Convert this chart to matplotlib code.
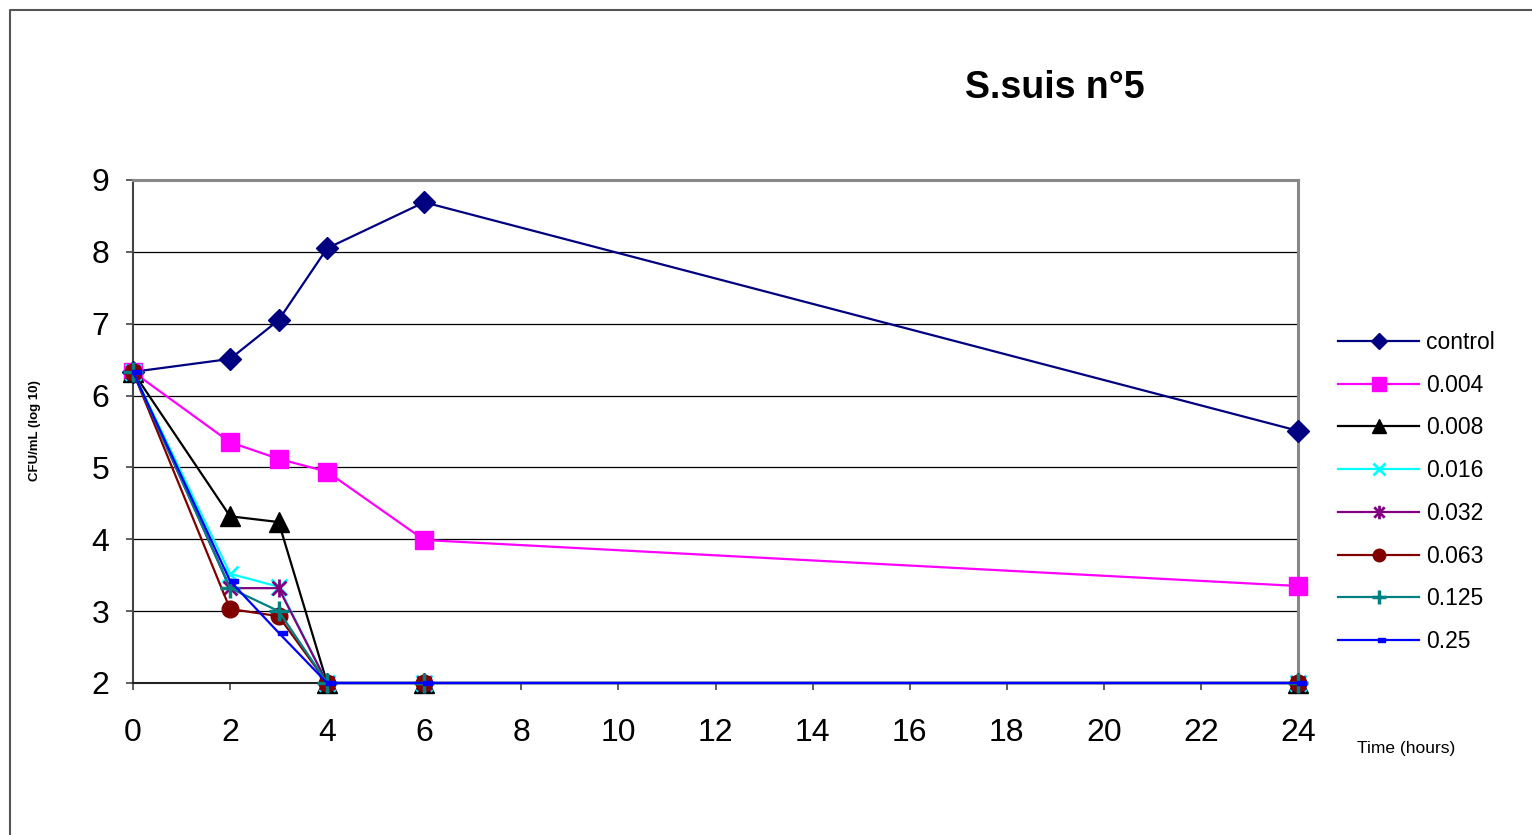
import matplotlib
matplotlib.use('Agg')
import matplotlib.pyplot as plt
from matplotlib.path import Path
from matplotlib.lines import Line2D

plt.rcParams['font.family'] = ['Liberation Sans', 'DejaVu Sans']

# Data (log10 CFU/mL)
hours = [0, 2, 3, 4, 6, 24]
series_names = ['control', '0.004', '0.008', '0.016', '0.032', '0.063', '0.125', '0.25']
control = [6.33, 6.51, 7.05, 8.05, 8.69, 5.51]
c0004 = [6.33, 5.35, 5.12, 4.94, 3.99, 3.35]
c0008 = [6.33, 4.32, 4.24, 2.0, 2.0, 2.0]
c0016 = [6.33, 3.52, 3.34, 2.0, 2.0, 2.0]
c0032 = [6.33, 3.32, 3.32, 2.0, 2.0, 2.0]
c0063 = [6.33, 3.03, 2.93, 2.0, 2.0, 2.0]
c0125 = [6.33, 3.32, 3.0, 2.0, 2.0, 2.0]
c025 = [6.33, 3.42, 2.70, 2.0, 2.0, 2.0]
x_ticks = list(range(0, 25, 2))
y_ticks = list(range(2, 10))

# custom markers: Excel-style star (x + vertical) and offset dash
star = Path([(-1, -1), (1, 1), (-1, 1), (1, -1), (0, -1.3), (0, 1.3)],
            [Path.MOVETO, Path.LINETO, Path.MOVETO, Path.LINETO, Path.MOVETO, Path.LINETO])
dash = Path([(-0.2, -0.35), (1.2, -0.35), (1.2, 0.35), (-0.2, 0.35), (-0.2, -0.35)],
            [Path.MOVETO, Path.LINETO, Path.LINETO, Path.LINETO, Path.CLOSEPOLY])

styles = [
    dict(color='#000080', marker='D', ms=11),
    dict(color='#FF00FF', marker='s', ms=13),
    dict(color='black', marker='^', ms=14),
    dict(color='#00FFFF', marker='x', ms=11, mew=2),
    dict(color='#800080', marker=star, ms=13, mew=2),
    dict(color='#800000', marker='o', ms=12),
    dict(color='#008080', marker='+', ms=14, mew=2.5),
    dict(color='#0000FF', marker=dash, ms=11),
]
values = [control, c0004, c0008, c0016, c0032, c0063, c0125, c025]

fig = plt.figure(figsize=(15.32, 8.35), dpi=100)
ax = fig.add_axes([133 / 1532, 1 - 683 / 835, (1298 - 133) / 1532, (683 - 180) / 835])

for name, vals, st in zip(series_names, values, styles):
    ax.plot(hours, vals, lw=1.6, label=name, clip_on=False, zorder=3, **st)

ax.set_xlim(0, 24)
ax.set_ylim(2, 9)
ax.set_xticks(x_ticks)
ax.set_yticks(y_ticks)
ax.tick_params(axis='x', direction='out', length=5, width=1.2, color='#444444',
               labelsize=23, pad=20)
ax.tick_params(axis='y', direction='out', length=5, width=1.2, color='#444444',
               labelsize=23, pad=12)
for y in y_ticks[1:-1]:
    ax.axhline(y, color='black', lw=0.9, zorder=1)
ax.spines['top'].set_color('#888888')
ax.spines['top'].set_linewidth(2.2)
ax.spines['right'].set_color('#888888')
ax.spines['right'].set_linewidth(2.2)
ax.spines['left'].set_color('#444444')
ax.spines['left'].set_linewidth(1.5)
ax.spines['bottom'].set_color('#222222')
ax.spines['bottom'].set_linewidth(1.5)

leg = fig.legend(loc='upper left', bbox_to_anchor=(1338 / 1532, 1 - 331 / 835),
                 frameon=False, fontsize=16.5, handlelength=3.55, handletextpad=0.3,
                 labelspacing=0.86, borderpad=0, borderaxespad=0, markerscale=0.75)

fig.text(1055 / 1532, 1 - 88 / 835, 'S.suis n°5', ha='center', va='center',
         fontsize=27, fontweight='bold')
fig.text(1357 / 1532, 1 - 748 / 835, 'Time (hours)', ha='left', va='center', fontsize=12.5)
fig.text(35 / 1532, 1 - 431 / 835, 'CFU/mL (log 10)', ha='center', va='center',
         rotation=90, fontsize=9.5, fontweight='bold')

# outer chart border (top and left visible)
fig.add_artist(Line2D([10 / 1532, 10 / 1532, 1], [0, 1 - 10 / 835, 1 - 10 / 835],
                      transform=fig.transFigure, color='#555555', lw=1.5))

fig.savefig('out.png', dpi=100)
